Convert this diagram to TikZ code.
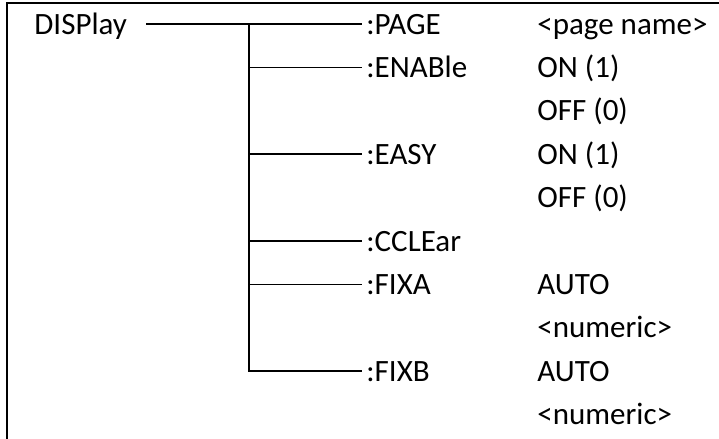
\documentclass[tikz,border=0pt]{standalone}
\usepackage{fontspec}
\setmainfont{Carlito}
\usepackage{tikz}
\usetikzlibrary{positioning}

\tikzset{
  cmd/.style={anchor=west, inner sep=2pt, text height=10pt, text depth=0pt},
  link/.style={line width=0.9pt},
  frame/.style={line width=1.1pt},
}

\begin{document}
\begin{tikzpicture}[x=0.5pt,y=-0.5pt,font=\fontsize{15.5}{18}\selectfont]
  \useasboundingbox (0,0) rectangle (719,439);
  \draw[frame] (7,439) -- (7,3) -- (719,3);
  \node[cmd] (disp) at (30,24) {DISPlay};
  \coordinate (trunk) at (249,24);
  \foreach \row/\name/\key in {0/PAGE/PAGE, 1/ENAB/ENABle, 3/EASY/EASY, 5/CCLE/CCLEar, 6/FIXA/FIXA, 8/FIXB/FIXB}{
    \node[cmd] (\name) at (362,{24+43.4*\row}) {:\key};
  }
  \foreach \row/\val in {0/{<page name>}, 1/{ON (1)}, 2/{OFF (0)}, 3/{ON (1)}, 4/{OFF (0)}, 6/{AUTO}, 7/{<numeric>}, 8/{AUTO}, 9/{<numeric>}}{
    \node[cmd] (val\row) at (533,{24+43.4*\row}) {\val};
  }
  \draw[link] ([xshift=7.5pt]disp.east) -- (PAGE.west);
  \draw[link] (trunk) |- (FIXB.west);
  \foreach \name in {ENAB,EASY,CCLE,FIXA}{
    \draw[link] (trunk |- \name.west) -- (\name.west);
  }
\end{tikzpicture}
\end{document}
